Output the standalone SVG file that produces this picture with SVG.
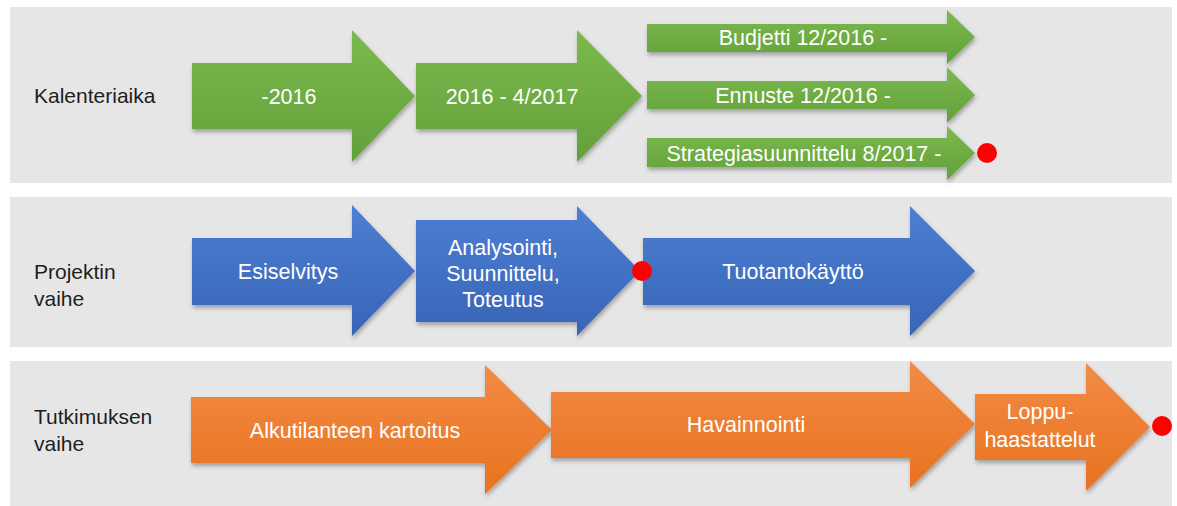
<svg xmlns="http://www.w3.org/2000/svg" width="1177" height="506" viewBox="0 0 1177 506">
  <defs>
    <linearGradient id="gGreen" x1="0" y1="0" x2="0" y2="1">
      <stop offset="0" stop-color="#7cb94e"/>
      <stop offset="1" stop-color="#62a03a"/>
    </linearGradient>
    <linearGradient id="gBlue" x1="0" y1="0" x2="0" y2="1">
      <stop offset="0" stop-color="#4d7fd2"/>
      <stop offset="1" stop-color="#3864b6"/>
    </linearGradient>
    <linearGradient id="gOrange" x1="0" y1="0" x2="0" y2="1">
      <stop offset="0" stop-color="#f28b45"/>
      <stop offset="1" stop-color="#e8721f"/>
    </linearGradient>
    <filter id="shadow" x="-10%" y="-10%" width="120%" height="130%">
      <feDropShadow dx="1" dy="3" stdDeviation="2" flood-color="#000" flood-opacity="0.3"/>
    </filter>
  </defs>
  <style>
    .band { fill: #e7e6e6; }
    .green { fill: url(#gGreen); filter: url(#shadow); }
    .blue { fill: url(#gBlue); filter: url(#shadow); }
    .orange { fill: url(#gOrange); filter: url(#shadow); }
    .lbl { font-family: "Liberation Sans", Arial, sans-serif; font-size: 21px; fill: #1e1e1e; }
    .txt { font-family: "Liberation Sans", Arial, sans-serif; font-size: 21.5px; fill: #ffffff; text-anchor: middle; }
    .dot { fill: #ff0000; }
  </style>

  <!-- Bands -->
  <g id="bands">
    <rect class="band" x="10" y="7" width="1162" height="176"/>
    <rect class="band" x="10" y="197" width="1162" height="150"/>
    <rect class="band" x="10" y="361" width="1162" height="145"/>
  </g>

  <!-- Row labels -->
  <g id="label-kalenteriaika">
    <text class="lbl" x="34" y="103">Kalenteriaika</text>
  </g>
  <g id="label-projektin">
    <text class="lbl" x="34" y="279">Projektin</text>
    <text class="lbl" x="34" y="306">vaihe</text>
  </g>
  <g id="label-tutkimuksen">
    <text class="lbl" x="34" y="424">Tutkimuksen</text>
    <text class="lbl" x="34" y="451">vaihe</text>
  </g>

  <!-- Kalenteriaika row -->
  <g id="node-2016">
    <polygon class="green" points="192,63 352,63 352,30 415,96 352,162 352,129 192,129"/>
    <text class="txt" x="289" y="104">-2016</text>
  </g>
  <g id="node-2016-2017">
    <polygon class="green" points="416,63 577,63 577,30 642,96 577,162 577,129 416,129"/>
    <text class="txt" x="512" y="104">2016 - 4/2017</text>
  </g>
  <g id="node-budjetti">
    <polygon class="green" points="647,24 947,24 947,10 975,37 947,64 947,52 647,52"/>
    <text class="txt" x="803" y="45">Budjetti 12/2016 -</text>
  </g>
  <g id="node-ennuste">
    <polygon class="green" points="647,81 947,81 947,67 975,95 947,123 947,109 647,109"/>
    <text class="txt" x="803" y="103">Ennuste 12/2016 -</text>
  </g>
  <g id="node-strategia">
    <polygon class="green" points="647,138 947,138 947,126 975,153 947,180 947,167 647,167"/>
    <text class="txt" x="804" y="161">Strategiasuunnittelu 8/2017 -</text>
  </g>

  <!-- Projektin vaihe row -->
  <g id="node-esiselvitys">
    <polygon class="blue" points="192,238 352,238 352,205 415,271 352,336 352,305 192,305"/>
    <text class="txt" x="288" y="279">Esiselvitys</text>
  </g>
  <g id="node-analysointi">
    <polygon class="blue" points="416,220 577,220 577,206 640,271 577,336 577,322 416,322"/>
    <text class="txt" x="503" y="255">Analysointi,</text>
    <text class="txt" x="503" y="281">Suunnittelu,</text>
    <text class="txt" x="503" y="307">Toteutus</text>
  </g>
  <g id="node-tuotantokaytto">
    <polygon class="blue" points="643,238 910,238 910,206 975,271 910,336 910,305 643,305"/>
    <text class="txt" x="793" y="279">Tuotantokäyttö</text>
  </g>

  <!-- Tutkimuksen vaihe row -->
  <g id="node-alkutilanne">
    <polygon class="orange" points="191,397 485,397 485,365 552,430 485,494 485,463 191,463"/>
    <text class="txt" x="355" y="438">Alkutilanteen kartoitus</text>
  </g>
  <g id="node-havainnointi">
    <polygon class="orange" points="551,392 910,392 910,361 975,424 910,488 910,458 551,458"/>
    <text class="txt" x="746" y="432">Havainnointi</text>
  </g>
  <g id="node-loppuhaastattelut">
    <polygon class="orange" points="975,394 1086,394 1086,363 1150,427 1086,491 1086,460 975,460"/>
    <text class="txt" x="1040" y="419">Loppu-</text>
    <text class="txt" x="1040" y="447">haastattelut</text>
  </g>

  <!-- Milestone markers -->
  <g id="milestones">
    <circle class="dot" cx="987" cy="153" r="10"/>
    <circle class="dot" cx="642" cy="271" r="10"/>
    <circle class="dot" cx="1162" cy="426" r="10"/>
  </g>
</svg>
